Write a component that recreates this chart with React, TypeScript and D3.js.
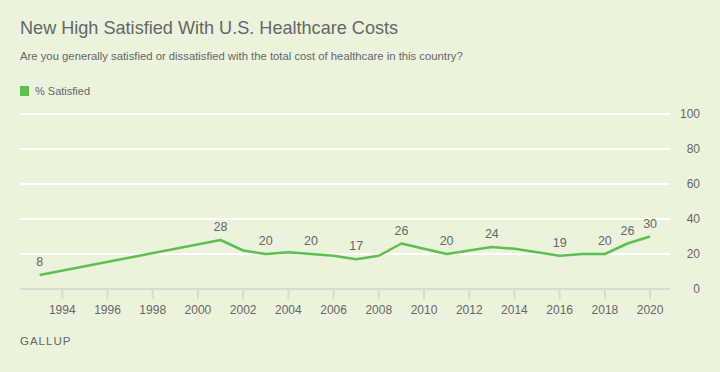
import * as d3 from 'd3';

const years = [1993, 2001, 2002, 2003, 2004, 2005, 2006, 2007, 2008, 2009, 2010, 2011, 2012, 2013, 2014, 2015, 2016, 2017, 2018, 2019, 2020];
const satisfied = [8, 28, 22, 20, 21, 20, 19, 17, 19, 26, 23, 20, 22, 24, 23, 21, 19, 20, 20, 26, 30];
const labeledYears = [1993, 2001, 2003, 2005, 2007, 2009, 2011, 2013, 2016, 2018, 2019, 2020];
const xTicks = [1994, 1996, 1998, 2000, 2002, 2004, 2006, 2008, 2010, 2012, 2014, 2016, 2018, 2020];
const yTicks = [0, 20, 40, 60, 80, 100];

const W = 720;
const H = 372;
const bg = '#ebf3dc';
const green = '#5dbf4e';
const textColor = '#666666';
const font = '"Liberation Sans", Arial, sans-serif';

const App = () => {
    const x = d3.scaleLinear().domain([1992.13, 2020.88]).range([20, 670]);
    const y = d3.scaleLinear().domain([0, 100]).range([289, 114]);

    const points = years.map((yr, i) => ({year: yr, value: satisfied[i]}));
    const line = d3.line<{year: number, value: number}>()
        .x(d => x(d.year))
        .y(d => y(d.value));

    return (
        <svg width={W} height={H} style={{position: 'absolute', left: 0, top: 0, background: bg}} fontFamily={font}>
            <rect width={W} height={H} fill={bg}/>
            <text x={20} y={34} fontSize={18.1} fill={textColor}>New High Satisfied With U.S. Healthcare Costs</text>
            <text x={20} y={60} fontSize={11.3} fill={textColor}>Are you generally satisfied or dissatisfied with the total cost of healthcare in this country?</text>

            <rect x={20} y={86} width={9} height={10} fill={green}/>
            <text x={35} y={95} fontSize={11} fill={textColor}>% Satisfied</text>

            {yTicks.filter(t => t > 0).map(t => (
                <line key={t} x1={20} x2={670} y1={y(t)} y2={y(t)} stroke="#ffffff" strokeWidth={2}/>
            ))}
            {yTicks.map(t => (
                <text key={t} x={700} y={y(t) + 4} fontSize={12} fill={textColor} textAnchor="end">{t}</text>
            ))}

            <line x1={20} x2={670} y1={y(0)} y2={y(0)} stroke="#d8dbd4" strokeWidth={2}/>
            {xTicks.map(t => (
                <g key={t}>
                    <line x1={x(t)} x2={x(t)} y1={y(0)} y2={y(0) + 10} stroke="#d8dbd4" strokeWidth={2}/>
                    <text x={x(t)} y={314} fontSize={12} fill={textColor} textAnchor="middle">{t}</text>
                </g>
            ))}

            <path d={line(points) ?? ''} fill="none" stroke={green} strokeWidth={2.5} strokeLinejoin="round"/>

            {points.filter(p => labeledYears.includes(p.year)).map(p => (
                <text key={p.year} x={x(p.year)} y={y(p.value) - 9} fontSize={12.5} fill={textColor} textAnchor="middle">{p.value}</text>
            ))}

            <text x={20} y={345} fontSize={11.5} fill={textColor} letterSpacing={1}>GALLUP</text>
        </svg>
    );
};

export default App;
